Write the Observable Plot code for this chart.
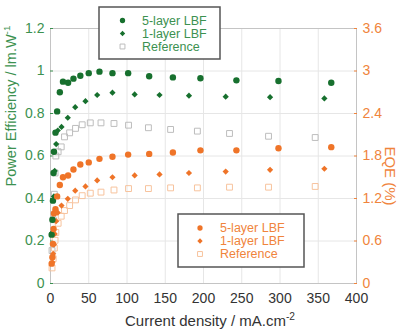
<!DOCTYPE html>
<html>
<head>
<meta charset="utf-8">
<script src="https://cdn.jsdelivr.net/npm/d3@7"></script>
<script src="https://cdn.jsdelivr.net/npm/@observablehq/plot@0.6"></script>
<style>
  html, body { margin: 0; padding: 0; background: #fff; }
  #chart { width: 399px; height: 331px; }
</style>
</head>
<body>
<div id="chart"></div>
<script>
// ---------- data ----------
const xTicks = [0, 50, 100, 150, 200, 250, 300, 350, 400];
const peTicks = [0, 0.2, 0.4, 0.6, 0.8, 1, 1.2];
const eqeTicks = [0, 0.6, 1.2, 1.8, 2.4, 3, 3.6];

const cur5 = [1.5, 2.5, 3.2, 4, 4.5, 6.5, 8.7, 12.2, 16.3, 23, 30, 39, 50, 64, 81, 101.5, 129, 160, 196, 243, 298, 367];
const pe5  = [0.23, 0.30, 0.39, 0.52, 0.62, 0.71, 0.81, 0.90, 0.95, 0.945, 0.964, 0.978, 0.99, 0.997, 0.99, 0.99, 0.975, 0.97, 0.966, 0.956, 0.953, 0.945];
const eqe5 = [0.28, 0.37, 0.56, 0.77, 0.99, 1.05, 1.23, 1.39, 1.50, 1.525, 1.61, 1.68, 1.71, 1.76, 1.79, 1.82, 1.83, 1.85, 1.88, 1.88, 1.91, 1.925];

const cur1 = [2.5, 3.5, 4.5, 5.5, 7.4, 9.5, 14.4, 22.6, 32.3, 45.7, 61, 81, 110, 142.5, 181, 229, 287, 358];
const pe1  = [0.24, 0.30, 0.41, 0.53, 0.656, 0.72, 0.737, 0.78, 0.83, 0.858, 0.887, 0.898, 0.89, 0.887, 0.884, 0.879, 0.877, 0.871];
const eqe1 = [0.30, 0.42, 0.55, 0.70, 0.88, 1.00, 1.10, 1.195, 1.31, 1.37, 1.455, 1.50, 1.525, 1.54, 1.56, 1.58, 1.605, 1.62];

const curR = [2, 3.5, 5, 6, 7, 10, 14, 18.3, 25, 32.7, 41.4, 52, 66, 83, 102, 128, 157, 192, 234, 285, 346];
const peR  = [0.155, 0.30, 0.42, 0.52, 0.60, 0.62, 0.643, 0.69, 0.709, 0.73, 0.747, 0.756, 0.756, 0.753, 0.745, 0.733, 0.725, 0.717, 0.706, 0.693, 0.687];
const eqeR = [0.22, 0.35, 0.50, 0.61, 0.72, 0.85, 0.95, 1.03, 1.10, 1.18, 1.24, 1.275, 1.29, 1.32, 1.34, 1.34, 1.35, 1.35, 1.36, 1.36, 1.37];

const seriesNames = ["5-layer LBF", "1-layer LBF", "Reference"];

// ---------- styling ----------
const GREEN = "#17702e";
const GREEN_TXT = "#3c9150";
const REF_GRAY = "#bdbdbd";
const ORANGE = "#ef7428";
const ORANGE_TXT = "#f0843c";
const REF_ORANGE = "#f7c39d";
const EQE_PER_PE = 3; // right axis 3.6 aligns with left axis 1.2

const rows = (xs, pes, eqes) => xs.map((c, i) => ({cur: c, pe: pes[i], eqe: eqes[i]}));
const d5 = rows(cur5, pe5, eqe5);
const d1 = rows(cur1, pe1, eqe1);
const dR = rows(curR, peR, eqeR);
const fmt = v => String(+v.toFixed(1));
const eqeY = d => d.eqe / EQE_PER_PE;

const svg = Plot.plot({
  width: 399,
  height: 331,
  marginLeft: 50,
  marginRight: 43,
  marginTop: 28,
  marginBottom: 48,
  style: {fontFamily: "Liberation Sans, Arial, sans-serif", background: "#fff"},
  x: {domain: [0, 400]},
  y: {domain: [0, 1.2]},
  marks: [
    Plot.gridX(xTicks, {stroke: "#e6e6e6", strokeOpacity: 1}),
    Plot.gridY(peTicks, {stroke: "#e6e6e6", strokeOpacity: 1}),
    Plot.frame({stroke: "#c4c4c4"}),
    Plot.axisX({ticks: xTicks, tickSize: 0, tickPadding: 10, fontSize: 14, color: "#333", label: null, tickFormat: d => String(d)}),
    Plot.axisY({anchor: "left", ticks: peTicks, tickSize: -3, tickPadding: 9, fontSize: 14, color: GREEN_TXT, label: null, tickFormat: fmt}),
    Plot.axisY({anchor: "right", ticks: eqeTicks.map(v => v / EQE_PER_PE), tickSize: -3, tickPadding: 9, fontSize: 14, color: ORANGE_TXT, label: null, tickFormat: d => fmt(d * EQE_PER_PE)}),
    // reference (hollow squares)
    Plot.dot(dR, {x: "cur", y: "pe", symbol: "square", r: 3.3, fill: "none", stroke: REF_GRAY, strokeWidth: 1}),
    Plot.dot(dR, {x: "cur", y: eqeY, symbol: "square", r: 3.3, fill: "none", stroke: REF_ORANGE, strokeWidth: 1}),
    // 1-layer
    Plot.dot(d1, {x: "cur", y: "pe", symbol: "diamond2", r: 2.8, fill: GREEN, stroke: "none"}),
    Plot.dot(d1, {x: "cur", y: eqeY, symbol: "diamond2", r: 2.8, fill: ORANGE, stroke: "none"}),
    // 5-layer
    Plot.dot(d5, {x: "cur", y: "pe", symbol: "circle", r: 3.2, fill: GREEN, stroke: "none"}),
    Plot.dot(d5, {x: "cur", y: eqeY, symbol: "circle", r: 3.2, fill: ORANGE, stroke: "none"})
  ]
});

document.getElementById("chart").appendChild(svg);

// ---------- axis titles and legends ----------
const s = d3.select(svg);
const font = "Liberation Sans, Arial, sans-serif";

function labelWithSup(g, main, sup, color, size) {
  const t = g.append("text").attr("fill", color).attr("font-size", size).attr("font-family", font);
  t.append("tspan").text(main);
  t.append("tspan").attr("font-size", size * 0.68).attr("dy", -size * 0.4).text(sup);
  return t;
}

labelWithSup(s.append("g").attr("transform", "translate(16,106) rotate(-90)"),
  "Power Efficiency / lm.W", "-1", GREEN_TXT, 14.5).attr("text-anchor", "middle");

s.append("text").attr("transform", "translate(385,176) rotate(90)")
  .attr("text-anchor", "middle").attr("fill", ORANGE_TXT).attr("font-size", 15)
  .attr("font-family", font).text("EQE (%)");

labelWithSup(s.append("g").attr("transform", "translate(210,326)"),
  "Current density / mA.cm", "-2", "#333", 15).attr("text-anchor", "middle");

function legend(x, y, w, h, colorMark, colorRef, colorText, markX, textX, rowYs) {
  const g = s.append("g");
  g.append("rect").attr("x", x).attr("y", y).attr("width", w).attr("height", h)
    .attr("fill", "#fff").attr("stroke", "#555").attr("stroke-width", 1.5);
  const syms = [d3.symbolCircle, d3.symbolDiamond2, d3.symbolSquare];
  const sizes = [22, 18, 24];
  seriesNames.forEach((name, i) => {
    const p = g.append("path").attr("transform", `translate(${markX},${rowYs[i]})`)
      .attr("d", d3.symbol(syms[i], sizes[i])());
    if (i === 2) p.attr("fill", "none").attr("stroke", colorRef);
    else p.attr("fill", colorMark);
    g.append("text").attr("x", textX).attr("y", rowYs[i]).attr("dy", "0.35em")
      .attr("text-anchor", "start")
      .attr("fill", colorText).attr("font-size", 12.5).attr("font-family", font).text(name);
  });
}

legend(99, 7, 121, 52, GREEN, REF_GRAY, GREEN_TXT, 122.5, 142, [20.5, 33.5, 46.5]);
legend(178, 214, 126, 53, ORANGE, REF_ORANGE, ORANGE_TXT, 200, 220, [228, 241, 254]);
</script>
</body>
</html>
